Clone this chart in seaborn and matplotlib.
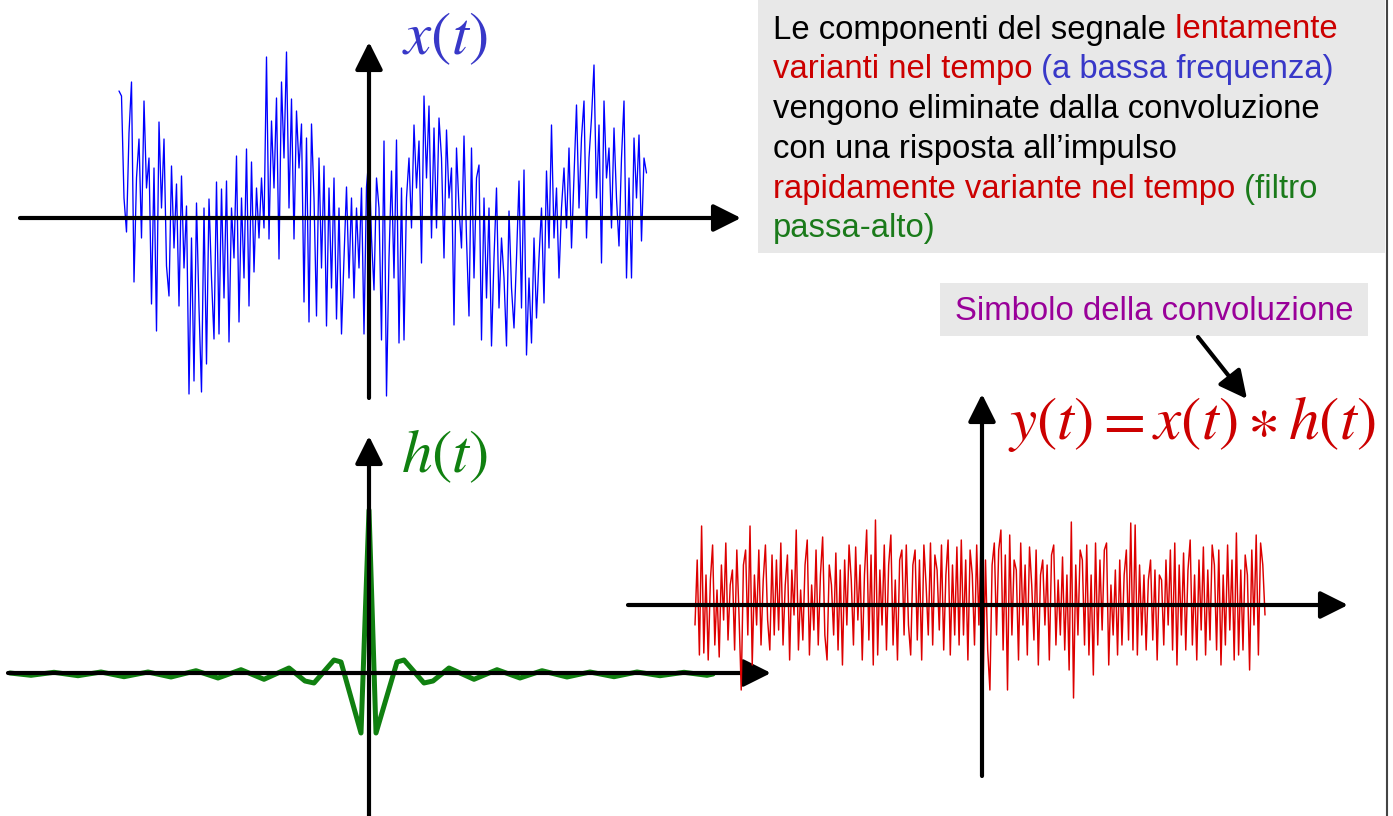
import numpy as np
import matplotlib
matplotlib.use("Agg")
import matplotlib.pyplot as plt
from matplotlib.patches import Rectangle
import seaborn as sns

sns.set_theme(style="white")
plt.rcParams["font.family"] = ["Liberation Sans", "DejaVu Sans"]
plt.rcParams["mathtext.fontset"] = "stix"

# ---------------- data ----------------
# x(t): slowly varying + noise (amplitude, arbitrary units)
x_vals = [
    127, 122, 20, -14, 85, 136, -64, 40, 79, -20, 117, 30, 60, -86, 50, -113, 96, 10, 79, -48,
    -78, 52, -30, 34, -88, 42, -50, 12, -176, -20, -163, 15, -90, -174, 10, -146, 19, -60, -121, 36,
    -116, 29, -80, 37, -124, 10, -40, 62, -104, 20, -60, 69, -88, 56, -54, 30, -20, 40, -10, 161,
    -21, 97, 30, 120, -41, 136, 60, 166, 10, 119, -21, 107, 50, 94, -84, 80, -104, 94, 20, -98,
    60, -50, 52, -108, 30, -70, 40, -101, 10, -116, -40, 31, -60, 20, -80, 10, -50, 30, -116, 31,
    62, -20, -72, 40, 10, -122, 77, -178, -40, 47, -60, 78, -125, 30, -122, 20, 60, -10, 93, 30,
    77, -45, 122, 40, 112, -20, 90, -10, 100, 60, -40, 88, 20, 50, -107, 70, 10, -30, 82, -20,
    -98, 70, -60, 40, 53, -122, 20, -80, 10, -128, -40, 30, -90, -20, -60, -128, 7, -70, -110, -40,
    37, -90, 48, -137, -60, -125, -20, -100, -40, 10, -85, 47, -30, 93, -20, 30, -60, 10, 50, -10,
    70, -30, 40, 113, 10, 80, 117, -20, 60, 100, 153, 20, 93, -45, 117, 40, 70, -10, 90, 20,
    -28, 60, 117, -60, 40, -60, 80, 20, 83, -23, 60, 45,
]

# h(t): high-pass impulse response (sample times and values)
h_t = [-359, -338, -315, -291, -268, -245, -221, -198, -173, -151, -128, -105, -80, -64, -55,
       -35, -28, -8, 0, 7, 28, 35, 55, 64, 80, 105, 128, 151, 173, 198, 221, 245, 268, 291,
       315, 338, 344]
h_vals = [0, -2.3, 0.7, -2.7, 1, -3.7, 1, -4, 2.3, -5, 3.3, -6.3, 5, -8, -10,
          13, 11, -60, 163, -60, 11, 13, -10, -8, 5, -6.3, 3.3, -5, 2.3, -4, 1, -3.7, 1, -2.7,
          0.7, -2.3, -1]

# y(t) = x(t) * h(t): only fast components remain
y_vals = [
    -20, 45, -50, 79, -48, 30, -55, 25, 60, -40, 15, -52, 40, -15, 62, -35, 20, 35, -45, 55,
    -10, -85, 40, 55, -30, 79, -60, 30, -20, 55, -40, 25, 60, -15, -45, 50, -30, 45, -25, 62,
    -40, 20, 50, -55, 35, -10, 75, -45, 15, -35, 40, 65, -50, 20, -25, 55, -40, 30, 68, -30,
    -55, 40, 20, -30, 52, -45, 35, -60, 45, -20, 60, 25, -40, 58, -15, 40, -55, 30, 75, -35,
    50, -60, 85, -50, 35, -20, 60, -45, 40, 70, -40, 25, -55, 45, 55, -30, 60, -20, -50, 40,
    55, -35, 45, -55, 60, 20, -30, 62, -40, 50, 35, -25, 60, -45, 30, 65, -50, 40, -30, 58,
    -40, 65, -30, 45, -55, 55, 30, -40, 60, -20, 70, -70, 45, -45, -85, 40, 62, -30, 55, 75,
    -45, 50, -85, 70, -30, 45, 35, -55, 62, -20, 40, -50, 58, 20, -35, 55, -60, 30, 45, -20,
    40, -55, 50, 60, -40, 25, -30, 48, -45, 30, -65, 83, -93, 40, -30, 55, 45, -40, 60, -50,
    30, -70, 62, -40, 45, -25, 55, 62, -60, 20, -30, 35, -50, 45, -40, 30, 55, -35, 82, -45,
    80, -50, 40, -30, 30, -45, 25, 45, -35, 35, -55, 30, 25, -40, 45, -20, 55, -45, 62, -60,
    40, -30, 52, -45, 35, 65, -40, 30, -55, 45, -25, 58, -50, 35, -35, 60, 40, -45, 55, -60,
    30, -40, 60, -25, 45, -55, 72, -50, 35, -45, 50, 30, -65, 55, -20, 70, -50, 62, 40, -10,
]

x_label = r"$x(t)$"
h_label = r"$h(t)$"
y_label = r"$y(t)=x(t)\ast h(t)$"
note_lines = [
    [("Le componenti del segnale", "black"), (" lentamente", "#cc0000")],
    [("varianti nel tempo", "#cc0000"), (" (a bassa frequenza)", "#3838c8")],
    [("vengono eliminate dalla convoluzione", "black")],
    [("con una risposta all\u2019impulso", "black")],
    [("rapidamente variante nel tempo", "#cc0000"), (" (filtro", "#1a7a1a")],
    [("passa-alto)", "#1a7a1a")],
]
conv_note = "Simbolo della convoluzione"

# ---------------- figure ----------------
W, H = 1393, 816
fig = plt.figure(figsize=(W / 100, H / 100), dpi=100)
fig.patch.set_facecolor("white")


def panel(x0, y0, x1, y1, ox, oy):
    ax = fig.add_axes([x0 / W, 1 - y1 / H, (x1 - x0) / W, (y1 - y0) / H])
    ax.set_xlim(x0 - ox, x1 - ox)
    ax.set_ylim(oy - y1, oy - y0)
    ax.axis("off")
    return ax


def arrow(ax, start, end, lw=3.0, ms=42):
    ax.annotate("", xy=end, xytext=start,
                arrowprops=dict(arrowstyle="-|>", color="black", lw=lw,
                                mutation_scale=ms, shrinkA=0, shrinkB=0),
                annotation_clip=False)


LABEL_FS = 44

# panel x(t)
axx = panel(0, 0, 760, 410, 369, 218)
tx = np.linspace(119 - 369, 646.5 - 369, len(x_vals))
sns.lineplot(x=tx, y=x_vals, ax=axx, color="#0000ff", linewidth=0.95,
             estimator=None, sort=False)
arrow(axx, (20 - 369, 0), (741 - 369, 0))
arrow(axx, (0, 218 - 398), (0, 218 - 42))
axx.text(445 - 369, 218 - 39, x_label, color="#3838c8", fontsize=LABEL_FS,
         ha="center", va="center")

# panel h(t)
axh = panel(0, 420, 790, 816, 369, 673)
sns.lineplot(x=h_t, y=h_vals, ax=axh, color="#108010", linewidth=3.6,
             estimator=None, sort=False)
arrow(axh, (8 - 369, 0), (771 - 369, 0))
arrow(axh, (0, 673 - 816), (0, 673 - 436))
axh.text(445 - 369, 673 - 456, h_label, color="#108010", fontsize=LABEL_FS,
         ha="center", va="center")

# panel y(t)
axy = panel(620, 380, 1393, 790, 982, 605)
ty = np.linspace(695 - 982, 1265 - 982, len(y_vals))
sns.lineplot(x=ty, y=y_vals, ax=axy, color="#dd0000", linewidth=1.05,
             estimator=None, sort=False)
arrow(axy, (628 - 982, 0), (1348 - 982, 0))
arrow(axy, (0, 605 - 776), (0, 605 - 394))
axy.text(1192 - 982, 605 - 424, y_label, color="#cc0000", fontsize=LABEL_FS,
         ha="center", va="center")

# overlay canvas for text boxes
ov = fig.add_axes([0, 0, 1, 1])
ov.set_xlim(0, W)
ov.set_ylim(H, 0)
ov.axis("off")

ov.add_patch(Rectangle((758, 0), 627, 253, facecolor="#e8e8e8", edgecolor="none", zorder=0))
ov.add_patch(Rectangle((940, 283), 428, 53, facecolor="#e8e8e8", edgecolor="none", zorder=0))
ov.axvline(1387, color="#444444", lw=1.5)

FS = 23.7
baseline0, step = 38.5, 39.8
for i, pieces in enumerate(note_lines):
    yb = baseline0 + i * step
    prev = None
    for txt, col in pieces:
        if prev is None:
            prev = ov.text(773, yb, txt, color=col, fontsize=FS, ha="left", va="baseline")
        else:
            prev = ov.annotate(txt, xy=(1, 0), xycoords=prev, color=col, fontsize=FS,
                               ha="left", va="bottom")

ov.text(1154, 311, conv_note, color="#990099", fontsize=FS, ha="center", va="center")
ov.annotate("", xy=(1247, 399), xytext=(1198, 337),
            arrowprops=dict(arrowstyle="-|>", color="black", lw=3, mutation_scale=42,
                            shrinkA=0, shrinkB=0))

fig.savefig("out.png", dpi=100)
